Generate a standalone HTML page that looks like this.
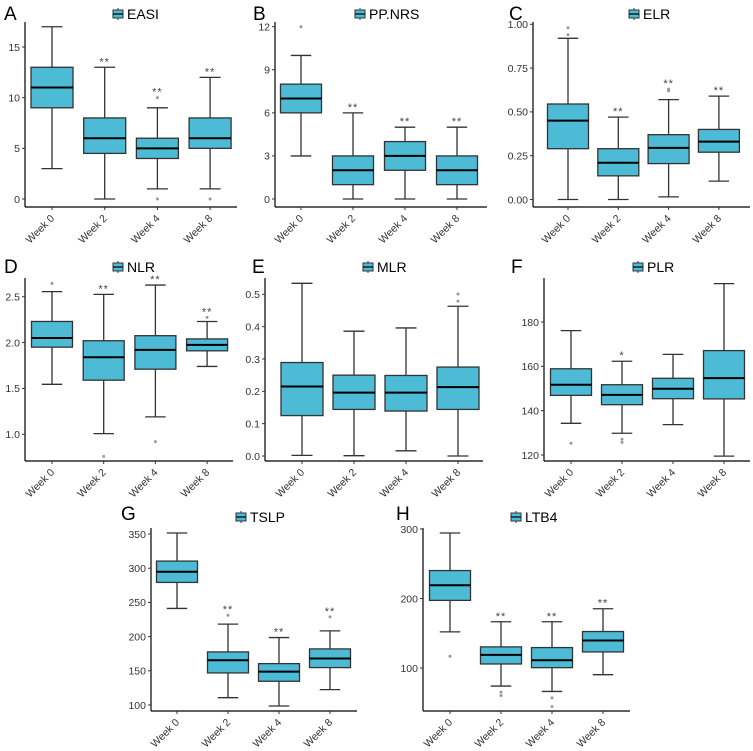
<!DOCTYPE html>
<html><head><meta charset="utf-8"><style>
html,body{margin:0;padding:0;background:#fff;}
svg{display:block;font-family:"Liberation Sans",Arial,sans-serif;}
</style></head><body>
<svg id="fig" width="753" height="751" viewBox="0 0 753 751"></svg>
<script>
const categories = ["Week 0","Week 2","Week 4","Week 8"];
// each box: [lowWhisker, q1, median, q3, highWhisker]
const easiStats = [[3,9,11,13,17],[0,4.5,6,8,13],[1,4,5,6,9],[1,5,6,8,12]];
const easiOut = [[],[],[10,0],[0]];
const easiSig = ["","**","**","**"];
const easiTicks = [0,5,10,15];
const nrsStats = [[3,6,7,8,10],[0,1,2,3,6],[0,2,3,4,5],[0,1,2,3,5]];
const nrsOut = [[12],[],[],[]];
const nrsSig = ["","**","**","**"];
const nrsTicks = [0,3,6,9,12];
const elrStats = [[0,0.29,0.45,0.545,0.92],[0,0.135,0.21,0.29,0.47],[0.015,0.205,0.295,0.37,0.57],[0.105,0.27,0.33,0.40,0.59]];
const elrOut = [[0.98,0.94],[],[0.62,0.63],[]];
const elrSig = ["","**","**","**"];
const elrTicks = [0,0.25,0.5,0.75,1.0];
const elrTickLabels = ["0.00","0.25","0.50","0.75","1.00"];
const nlrStats = [[1.545,1.95,2.05,2.23,2.555],[1.007,1.59,1.84,2.02,2.525],[1.19,1.71,1.92,2.075,2.627],[1.74,1.91,1.975,2.04,2.23]];
const nlrOut = [[2.645],[0.76],[0.92],[2.275]];
const nlrSig = ["","**","**","**"];
const nlrTicks = [1.0,1.5,2.0,2.5];
const mlrStats = [[0.002,0.125,0.215,0.289,0.534],[0.001,0.144,0.196,0.25,0.386],[0.016,0.139,0.196,0.249,0.396],[0,0.144,0.213,0.275,0.463]];
const mlrOut = [[],[],[],[0.501,0.479]];
const mlrSig = ["","","",""];
const mlrTicks = [0,0.1,0.2,0.3,0.4,0.5];
const plrStats = [[134.3,146.9,151.7,158.9,176.1],[129.8,142.7,147.1,151.7,162.3],[133.7,145.4,149.9,154.6,165.4],[119.5,145.3,154.7,167.1,197.3]];
const plrOut = [[125.3],[125.7,127.1],[],[]];
const plrSig = ["","*","",""];
const plrTicks = [120,140,160,180];
const tslpStats = [[241.2,279.2,294.8,310.4,351.5],[110.7,146.9,165.4,177.6,218.2],[98.5,134.7,148.8,160.5,198.6],[122.5,154.7,167.9,182.0,208.4]];
const tslpOut = [[],[231.3],[],[228.9]];
const tslpSig = ["","**","**","**"];
const tslpTicks = [100,150,200,250,300,350];
const ltbStats = [[152.0,197.3,219.0,240.2,294.2],[74,105.8,118.8,130.4,166.5],[66.3,100.5,111.1,129.4,166.5],[90.4,123.1,139.5,152.5,185.3]];
const ltbOut = [[116.9],[65.3,60.5],[57.1,44.6],[]];
const ltbSig = ["","**","**","**"];
const ltbTicks = [100,200,300];

const panels = [
 {key:"easi",letter:"A",title:"EASI",lx:4,ly:20,tx:113,ty:14,ax:25,c0:52,sp:52.7,right:237,top:22,base:207,v0:0,p0:199,v1:15,p1:47,bw:42,stats:easiStats,out:easiOut,sig:easiSig,ticks:easiTicks},
 {key:"ppnrs",letter:"B",title:"PP.NRS",lx:253,ly:20,tx:355,ty:14,ax:275,c0:301,sp:52,right:487,top:22,base:207,v0:0,p0:199,v1:12,p1:26.7,bw:41,stats:nrsStats,out:nrsOut,sig:nrsSig,ticks:nrsTicks},
 {key:"elr",letter:"C",title:"ELR",lx:509,ly:20,tx:629,ty:14,ax:533,c0:568,sp:50.3,right:750,top:22,base:207,v0:0,p0:199.5,v1:1,p1:24.3,bw:41,stats:elrStats,out:elrOut,sig:elrSig,ticks:elrTicks,tickLabels:elrTickLabels},
 {key:"nlr",letter:"D",title:"NLR",lx:4,ly:273,tx:113,ty:267,ax:25,c0:52,sp:51.7,right:233,top:278,base:461,v0:1.0,p0:434.3,v1:2.5,p1:296.7,bw:41,stats:nlrStats,out:nlrOut,sig:nlrSig,ticks:nlrTicks,fmt:1},
 {key:"mlr",letter:"E",title:"MLR",lx:252,ly:273,tx:363,ty:267,ax:265,c0:302,sp:52,right:483,top:278,base:461,v0:0,p0:456,v1:0.5,p1:294.3,bw:42,stats:mlrStats,out:mlrOut,sig:mlrSig,ticks:mlrTicks,fmt:1},
 {key:"plr",letter:"F",title:"PLR",lx:511,ly:273,tx:633,ty:267,ax:544,c0:571,sp:51,right:750,top:278,base:461,v0:120,p0:455,v1:180,p1:322,bw:41,stats:plrStats,out:plrOut,sig:plrSig,ticks:plrTicks},
 {key:"tslp",letter:"G",title:"TSLP",lx:121,ly:520,tx:236,ty:517,ax:151,c0:177,sp:51,right:357,top:528,base:711,v0:100,p0:705,v1:350,p1:534,bw:41,stats:tslpStats,out:tslpOut,sig:tslpSig,ticks:tslpTicks},
 {key:"ltb4",letter:"H",title:"LTB4",lx:396,ly:520,tx:511,ty:517,ax:423,c0:450,sp:51,right:630,top:528,base:711,v0:100,p0:668,v1:300,p1:529,bw:41,stats:ltbStats,out:ltbOut,sig:ltbSig,ticks:ltbTicks}
];

const NS="http://www.w3.org/2000/svg";
const svg=document.getElementById("fig");
function mk(tag,attrs,parent){const e=document.createElementNS(NS,tag);for(const k in attrs)e.setAttribute(k,attrs[k]);(parent||svg).appendChild(e);return e;}
const FILL="#4DBBD5", EDGE="#333333";

panels.forEach(p=>{
  const g=mk("g",{});
  
  
  const y=v=>p.p0+(v-p.v0)*(p.p1-p.p0)/(p.v1-p.v0);
  const x=i=>p.c0+i*p.sp;
  // letter
  const L=mk("text",{x:p.lx,y:p.ly,"font-size":19,fill:"#000"},g); L.textContent=p.letter;
  
  
  // legend
  const lg=mk("g",{},g);
  
  
  mk("line",{x1:p.tx+5,x2:p.tx+5,y1:p.ty-6,y2:p.ty+6,stroke:EDGE,"stroke-width":1},lg);
  mk("rect",{x:p.tx,y:p.ty-4,width:10,height:8,fill:FILL,stroke:EDGE,"stroke-width":1},lg);
  mk("line",{x1:p.tx,x2:p.tx+10,y1:p.ty,y2:p.ty,stroke:"#000","stroke-width":1.2},lg);
  const T=mk("text",{x:p.tx+14,y:p.ty+5,"font-size":14,fill:"#000"},lg); T.textContent=p.title;
  
  
  // axes
  const ya=mk("line",{x1:p.ax,x2:p.ax,y1:p.top,y2:p.base,stroke:"#000","stroke-width":1.2},g);
  
  
  const xa=mk("line",{x1:p.ax,x2:p.right,y1:p.base,y2:p.base,stroke:"#000","stroke-width":1.2},g);
  
  
  p.ticks.forEach((t,i)=>{
    const yy=y(t);
    mk("line",{x1:p.ax-3,x2:p.ax,y1:yy,y2:yy,stroke:"#333","stroke-width":1},g);
    const tl=mk("text",{x:p.ax-5,y:yy+3.8,"font-size":10.5,fill:"#333","text-anchor":"end"},g);
    tl.textContent=p.tickLabels?p.tickLabels[i]:(p.fmt?t.toFixed(p.fmt):String(t));
    
    
  });
  categories.forEach((c,i)=>{
    const cx=x(i);
    mk("line",{x1:cx,x2:cx,y1:p.base,y2:p.base+3,stroke:"#333","stroke-width":1},g);
    const xl=mk("text",{x:cx+3,y:p.base+12,"font-size":10.5,fill:"#333","text-anchor":"end",transform:`rotate(-45 ${cx+3} ${p.base+12})`},g);
    xl.textContent=c;
    
    
  });
  // boxes
  p.stats.forEach((s,i)=>{
    const cx=x(i), hw=p.bw/2;
    const bg=mk("g",{},g);
    
    
    mk("line",{x1:cx,x2:cx,y1:y(s[4]),y2:y(s[3]),stroke:EDGE,"stroke-width":1.3},bg);
    mk("line",{x1:cx,x2:cx,y1:y(s[1]),y2:y(s[0]),stroke:EDGE,"stroke-width":1.3},bg);
    mk("line",{x1:cx-hw/2,x2:cx+hw/2,y1:y(s[4]),y2:y(s[4]),stroke:EDGE,"stroke-width":1.3},bg);
    mk("line",{x1:cx-hw/2,x2:cx+hw/2,y1:y(s[0]),y2:y(s[0]),stroke:EDGE,"stroke-width":1.3},bg);
    mk("rect",{x:cx-hw,y:y(s[3]),width:p.bw,height:y(s[1])-y(s[3]),fill:FILL,stroke:EDGE,"stroke-width":1.3},bg);
    mk("line",{x1:cx-hw,x2:cx+hw,y1:y(s[2]),y2:y(s[2]),stroke:"#000","stroke-width":2},bg);
    let topPx=y(s[4]);
    p.out[i].forEach(o=>{
      const oy=y(o); topPx=Math.min(topPx,oy);
      const d=mk("circle",{cx:cx,cy:oy,r:1.5,fill:"#999"},bg);
      
      
    });
    if(p.sig[i]){
      const st=mk("text",{x:cx,y:topPx-2,"font-size":11,fill:"#444","text-anchor":"middle","letter-spacing":"1"},bg);
      st.textContent=p.sig[i];
      
      
    }
  });
});
</script>
</body></html>
